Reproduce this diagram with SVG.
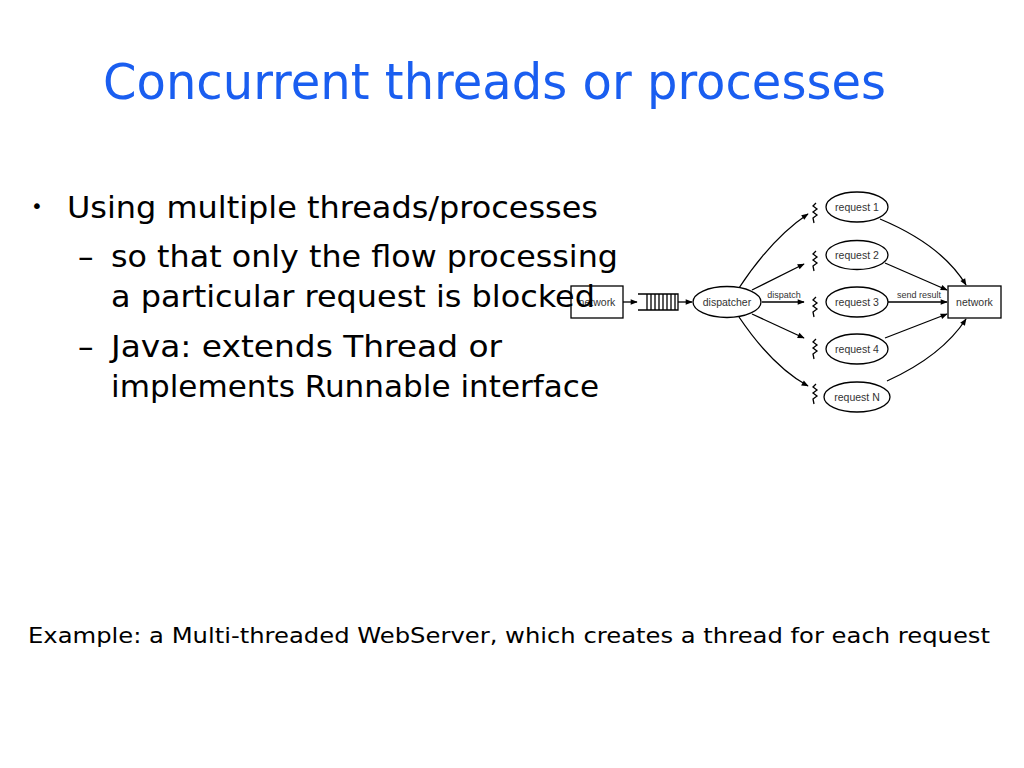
<svg xmlns="http://www.w3.org/2000/svg" width="1024" height="768" viewBox="0 0 1024 768">
<defs>
<marker id="ah" viewBox="0 0 10 10" refX="9" refY="5" markerWidth="10" markerHeight="7" markerUnits="userSpaceOnUse" orient="auto">
<path d="M0,1 L10,5 L0,9 z" fill="#000"/>
</marker>
</defs>
<style>
.t{font-family:"DejaVu Sans","Liberation Sans",sans-serif;fill:#000}
.title{font-family:"DejaVu Sans","Liberation Sans",sans-serif;fill:#1a5ef0;font-size:50px}
.d{font-family:"Liberation Sans",Arial,sans-serif;fill:#333;font-size:10.5px;text-anchor:middle}
.ds{font-family:"Liberation Sans",Arial,sans-serif;fill:#333;font-size:9px;text-anchor:middle}
.sh{fill:#fff;stroke:#000;stroke-width:1.3}
.c{fill:none;stroke:#000;stroke-width:1.3;marker-end:url(#ah)}
.sq{fill:none;stroke:#000;stroke-width:1.3}
</style>
<rect width="1024" height="768" fill="#fff"/>

<g id="connectors">
<path class="c" d="M623,302 L637,302"/>
<path class="c" d="M678,302 L692,302"/>
<path class="c" d="M739,288 Q772,238 808,214"/>
<path class="c" d="M752,290 L804,264"/>
<path class="c" d="M762,302 L804,302"/>
<path class="c" d="M752,314 L804,338"/>
<path class="c" d="M739,317 Q772,366 808,386"/>
<path class="c" d="M880,219 Q942,245 966,285"/>
<path class="c" d="M885,263 L947,290"/>
<path class="c" d="M888,302 L947,302"/>
<path class="c" d="M885,338 L947,314"/>
<path class="c" d="M887,381 Q942,356 966,319"/>
<text class="ds" x="784" y="298">dispatch</text>
<text class="ds" x="919" y="298">send result</text>
</g>

<g id="network-in">
<rect class="sh" x="571" y="286" width="52" height="32"/>
<text class="d" x="597" y="306">network</text>
</g>

<g id="queue">
<path class="sq" d="M638,294 H678 V310 H638 M647,294 V310 M651,294 V310 M655,294 V310 M659,294 V310 M663,294 V310 M667,294 V310 M671,294 V310 M675,294 V310"/>
</g>

<g id="dispatcher">
<ellipse class="sh" cx="727" cy="302" rx="34" ry="15.5"/>
<text class="d" x="727" y="306">dispatcher</text>
</g>

<g id="request-1">
<path class="sq" d="M816,203 l-3,3 l4,3 l-4,3 l4,3 l-4,3 l1,5"/>
<ellipse class="sh" cx="857" cy="207" rx="31" ry="15"/>
<text class="d" x="857" y="211">request 1</text>
</g>
<g id="request-2">
<path class="sq" d="M816,251 l-3,3 l4,3 l-4,3 l4,3 l-4,3 l1,5"/>
<ellipse class="sh" cx="857" cy="255" rx="31" ry="14.5"/>
<text class="d" x="857" y="259">request 2</text>
</g>
<g id="request-3">
<path class="sq" d="M816,297 l-3,3 l4,3 l-4,3 l4,3 l-4,3 l1,5"/>
<ellipse class="sh" cx="857" cy="302" rx="31" ry="15"/>
<text class="d" x="857" y="306">request 3</text>
</g>
<g id="request-4">
<path class="sq" d="M816,339 l-3,3 l4,3 l-4,3 l4,3 l-4,3 l1,5"/>
<ellipse class="sh" cx="857" cy="349" rx="31" ry="15"/>
<text class="d" x="857" y="353">request 4</text>
</g>
<g id="request-N">
<path class="sq" d="M816,384 l-3,3 l4,3 l-4,3 l4,3 l-4,3 l1,5"/>
<ellipse class="sh" cx="857" cy="397" rx="33" ry="15"/>
<text class="d" x="857" y="401">request N</text>
</g>

<g id="network-out">
<rect class="sh" x="948" y="286" width="53" height="32"/>
<text class="d" x="974.5" y="306">network</text>
</g>

<g id="title">
<text class="title" x="103" y="99" textLength="783" lengthAdjust="spacingAndGlyphs">Concurrent threads or processes</text>
</g>

<g id="bullets">
<text class="t" x="31" y="213" font-size="20">•</text>
<text class="t" x="67" y="218" font-size="31" textLength="531" lengthAdjust="spacingAndGlyphs">Using multiple threads/processes</text>
<text class="t" x="78" y="267" font-size="31">–</text>
<text class="t" x="111" y="267" font-size="31" textLength="507" lengthAdjust="spacingAndGlyphs">so that only the flow processing</text>
<text class="t" x="111" y="307" font-size="31" textLength="484" lengthAdjust="spacingAndGlyphs">a particular request is blocked</text>
<text class="t" x="78" y="357" font-size="31">–</text>
<text class="t" x="111" y="357" font-size="31" textLength="391" lengthAdjust="spacingAndGlyphs">Java: extends Thread or</text>
<text class="t" x="111" y="397" font-size="31" textLength="488" lengthAdjust="spacingAndGlyphs">implements Runnable interface</text>
</g>

<g id="example">
<text class="t" x="28" y="643" font-size="22" textLength="962" lengthAdjust="spacingAndGlyphs">Example: a Multi-threaded WebServer, which creates a thread for each request</text>
</g>
</svg>
